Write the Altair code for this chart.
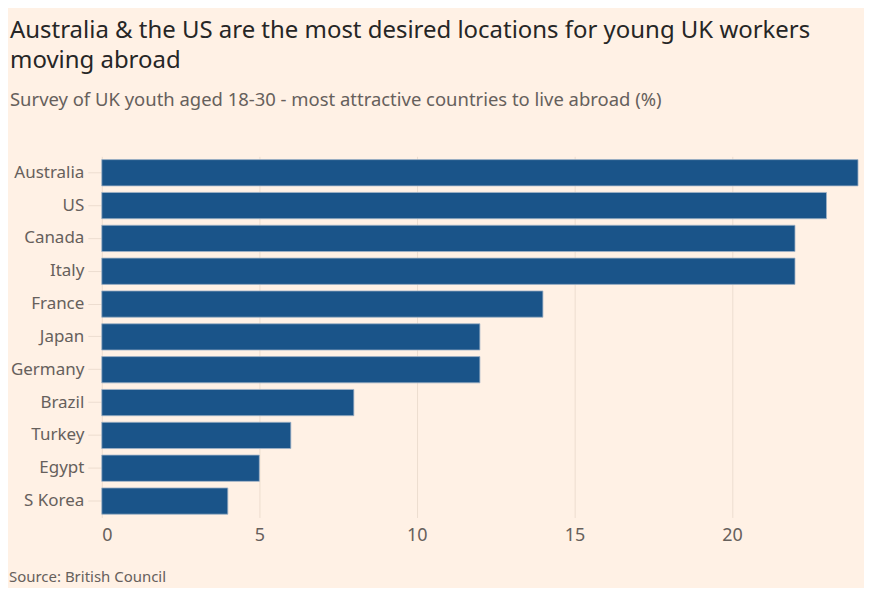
import altair as alt
import pandas as pd

countries = ["Australia", "US", "Canada", "Italy", "France", "Japan", "Germany",
             "Brazil", "Turkey", "Egypt", "S Korea"]
values = [24, 23, 22, 22, 14, 12, 12, 8, 6, 5, 4]

df = pd.DataFrame({"country": countries, "value": values})

W, H = 758, 362
FONT = "Noto Sans"

bars = alt.Chart(df).mark_bar(
    color="#1A5489", stroke="#9FB2C6", strokeWidth=0.8
).encode(
    x=alt.X("value:Q", scale=alt.Scale(domain=[0, 24], nice=False),
            axis=alt.Axis(values=[0, 5, 10, 15, 20], title=None, grid=True,
                          gridColor="#EDDDD0", domain=False, ticks=False,
                          labelFontSize=18, labelColor="#66605C", labelPadding=9,
                          labelFont=FONT)),
    y=alt.Y("country:N", sort=countries,
            scale=alt.Scale(paddingInner=0.2, paddingOuter=0.1),
            axis=alt.Axis(title=None, domain=False, tickSize=14, tickColor="#EDDDD0",
                          labelFontSize=17, labelColor="#66605C", labelPadding=4,
                          labelFont=FONT)),
)

source = alt.Chart(pd.DataFrame({"t": ["Source: British Council"]})).mark_text(
    align="left", baseline="middle", fontSize=15, color="#66605C", font=FONT
).encode(text="t:N", x=alt.value(-93), y=alt.value(H + 60))

chart = alt.layer(bars, source).properties(
    width=W, height=H,
    autosize=alt.AutoSizeParams(type="none"),
    padding={"left": 94, "top": 148, "right": 6, "bottom": 70},
    background="#FFF1E5",
    title=alt.TitleParams(
        text=["Australia & the US are the most desired locations for young UK workers",
              "moving abroad"],
        subtitle="Survey of UK youth aged 18-30 - most attractive countries to live abroad (%)",
        anchor="start", frame="group", dx=-92, offset=47,
        font=FONT, fontSize=24, fontWeight="normal", color="#262626", lineHeight=30,
        subtitleFont=FONT, subtitleFontSize=18.5, subtitleColor="#66605C",
        subtitlePadding=18,
    ),
).configure_view(stroke=None)

chart.save("out.html", embed_options={"renderer": "svg", "actions": False})
